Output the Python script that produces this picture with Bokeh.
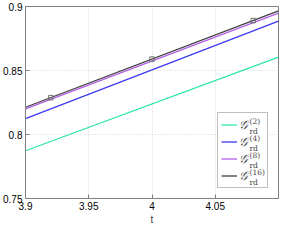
from bokeh.plotting import figure
from bokeh.models import FixedTicker, Legend, LegendItem, Label, Range1d, BoxAnnotation
from bokeh.embed import file_html
from bokeh.resources import INLINE

# ---- data ----
t = [3.9, 4.1]
g2 = [0.7873, 0.8605]
g4 = [0.8124, 0.8885]
g8 = [0.8200, 0.8948]
g16 = [0.8213, 0.8965]
t_mark = [3.92, 4.0, 4.08]
g16_mark = [0.8288, 0.8589, 0.8890]

x_ticks = [3.9, 3.95, 4.0, 4.05]
x_tick_labels = ["3.9", "3.95", "4", "4.05"]
y_ticks = [0.75, 0.8, 0.85, 0.9]
y_tick_labels = ["0.75", "0.8", "0.85", "0.9"]
series_names = ["(2)", "(4)", "(8)", "(16)"]
colors = ["#2ee6a0", "#3a3af0", "#b35ee6", "#404040"]

FW, FH = 253, 192
p = figure(frame_width=FW, frame_height=FH, output_backend="svg", toolbar_location=None,
           x_range=Range1d(3.9, 4.1), y_range=Range1d(0.75, 0.9),
           min_border_left=22, min_border_right=4, min_border_top=6, min_border_bottom=27)
p.background_fill_color = "white"
p.outline_line_color = "#808080"

for ax, ticks, labels in ((p.xaxis[0], x_ticks, x_tick_labels), (p.yaxis[0], y_ticks, y_tick_labels)):
    ax.ticker = FixedTicker(ticks=ticks)
    ax.major_label_overrides = {tk: lb for tk, lb in zip(ticks, labels)}
    ax.minor_tick_line_color = None
    ax.major_tick_in = 4
    ax.major_tick_out = 0
    ax.major_tick_line_color = "#808080"
    ax.axis_line_color = "#808080"
    ax.major_label_text_font = "Liberation Sans"
    ax.major_label_text_font_size = "10px"
    ax.major_label_text_color = "#000000"
    ax.major_label_standoff = 3
p.xaxis.axis_label = "t"
p.xaxis.axis_label_text_font = "Liberation Sans"
p.xaxis.axis_label_text_font_size = "10px"
p.xaxis.axis_label_text_font_style = "normal"
p.xaxis.axis_label_standoff = 1

p.grid.grid_line_color = "#d4d4d4"
p.grid.grid_line_dash = "1 2"
p.xgrid.ticker = FixedTicker(ticks=x_ticks)
p.ygrid.ticker = FixedTicker(ticks=y_ticks)

pad, item_h, glyph_w, standoff, margin, lw = 3, 17, 16, 2, 10, 25
bw = 2 * pad + glyph_w + standoff + lw
bh = 2 * pad + 4 * item_h
# white backing for the legend (drawn beneath the legend text)
p.add_layout(BoxAnnotation(left=FW - margin - bw, right=FW - margin, bottom=margin, top=margin + bh,
                           left_units="screen", right_units="screen",
                           bottom_units="screen", top_units="screen",
                           fill_color="white", fill_alpha=1.0, line_color=None, level="underlay"))

renderers = []
for ys, c in zip([g2, g4, g8, g16], colors):
    renderers.append(p.line(t, ys, line_color=c, line_width=1.3))
p.scatter(t_mark, g16_mark, marker="square", size=4.5, fill_color=None, line_color="#707070", line_width=1)

legend = Legend(items=[LegendItem(label="𝒢", renderers=[r]) for r in renderers],
                location="bottom_right", padding=pad, spacing=0, margin=margin,
                glyph_width=glyph_w, glyph_height=item_h, label_height=item_h,
                label_width=lw, label_standoff=standoff,
                label_text_font="DejaVu Serif", label_text_font_size="12px",
                label_text_font_style="italic",
                border_line_color="#808080", background_fill_alpha=0.0)
p.add_layout(legend)

text_x = FW - margin - bw + pad + glyph_w + standoff
for i, nm in enumerate(series_names):
    cy = margin + bh - pad - (i + 0.5) * item_h
    p.add_layout(Label(x=text_x + 9, y=cy, x_units="screen", y_units="screen", text=nm,
                       text_font="DejaVu Serif", text_font_size="7.5px", text_baseline="bottom",
                       level="overlay"))
    p.add_layout(Label(x=text_x + 9, y=cy - 1, x_units="screen", y_units="screen", text="rd",
                       text_font="DejaVu Serif", text_font_size="7.5px", text_baseline="top",
                       level="overlay"))

open("out.html", "w").write(file_html(p, INLINE))
